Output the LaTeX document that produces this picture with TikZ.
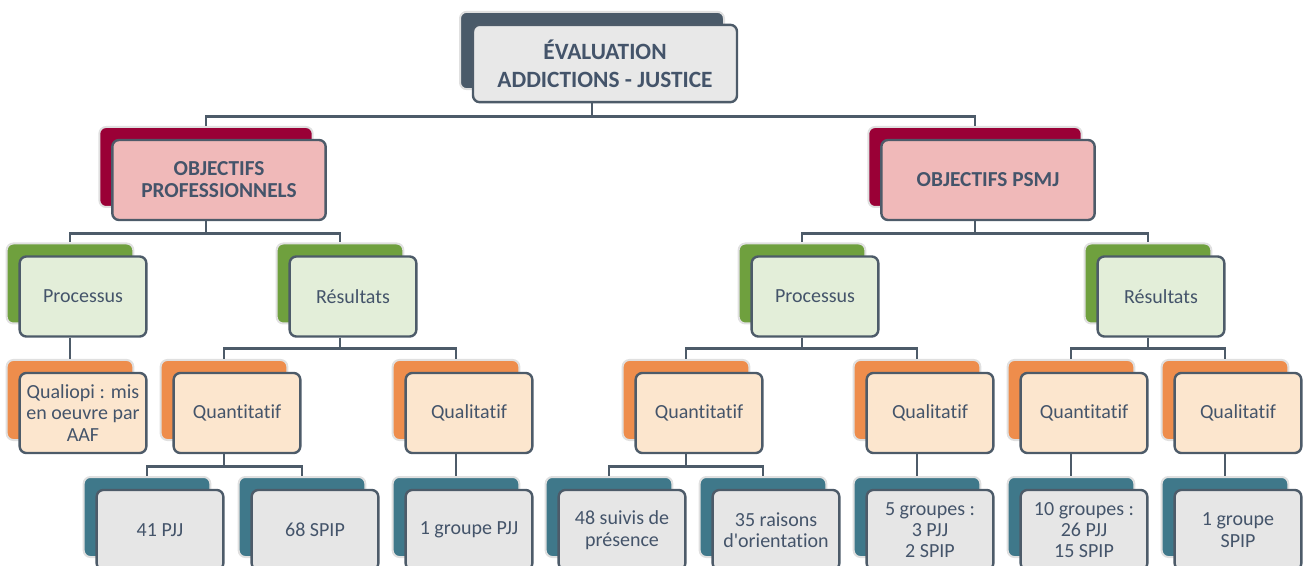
\documentclass[tikz,border=0pt]{standalone}
\usepackage{fontspec}
\setmainfont{Carlito}[Ligatures={TeXOff,NoCommon}]
\usepackage{tikz}
\usetikzlibrary{shadows}
\definecolor{textc}{HTML}{44546A}
\definecolor{edgec}{HTML}{4D5B69}
\definecolor{topback}{HTML}{4A5A69}
\definecolor{topfill}{HTML}{E8E8E8}
\definecolor{objback}{HTML}{9A0036}
\definecolor{objfill}{HTML}{F0B9B9}
\definecolor{axeback}{HTML}{6FA03E}
\definecolor{axefill}{HTML}{E3EED9}
\definecolor{typeback}{HTML}{EE8D4C}
\definecolor{typefill}{HTML}{FCE6CE}
\definecolor{databack}{HTML}{3F788A}
\definecolor{datafill}{HTML}{E6E6E6}
\begin{document}
\begin{tikzpicture}[x=0.75pt,y=-0.75pt,
  card/.style={draw=edgec,line width=1.8pt,rounded corners=5pt,text=textc,
  align=center,minimum width=95pt,minimum height=60pt,inner sep=2pt,
  font=\fontsize{15}{16}\selectfont},
  back/.style={copy shadow={shadow xshift=-9.75pt,shadow yshift=9.75pt,
  draw=black!12,line width=1.5pt,fill=#1}},
  topbox/.style={card,fill=topfill,back=topback,minimum width=198pt,minimum height=58pt,
  font=\fontsize{17.5}{21}\selectfont\bfseries},
  objbox/.style={card,fill=objfill,back=objback,minimum width=160pt,
  font=\fontsize{16}{16.5}\selectfont\bfseries},
  axebox/.style={card,fill=axefill,back=axeback},
  typebox/.style={card,fill=typefill,back=typeback},
  databox/.style={card,fill=datafill,back=databack},
  link/.style={draw=edgec,line width=2pt}]
\useasboundingbox (0,0) rectangle (1306,566);
\clip (0,0) rectangle (1306,566);
\node[topbox] (eval) at (605,63.5) {ÉVALUATION\\ADDICTIONS - JUSTICE};
\node[objbox] (objpro) at (219,180) {OBJECTIFS\\PROFESSIONNELS};
\node[objbox] (objpsmj) at (988,180) {OBJECTIFS PSMJ};
\node[axebox] (procg) at (83,296.5) {Processus};
\node[axebox] (resg) at (353,296.5) {Résultats};
\node[axebox] (procd) at (815,296.5) {Processus};
\node[axebox] (resd) at (1161,296.5) {Résultats};
\node[typebox] (aaf) at (83,413) {Qualiopi : mis\\en oeuvre par\\AAF};
\node[typebox] (quantg) at (237,413) {Quantitatif};
\node[typebox] (qualg) at (469,413) {Qualitatif};
\node[typebox] (quantd) at (699,413) {Quantitatif};
\node[typebox] (quald) at (930,413) {Qualitatif};
\node[typebox] (quantr) at (1084,413) {Quantitatif};
\node[typebox] (qualr) at (1238,413) {Qualitatif};
\node[databox] (pjj) at (160,530) {41 PJJ};
\node[databox] (spip) at (315,530) {68 SPIP};
\node[databox] (grpjj) at (469,530) {1 groupe PJJ};
\node[databox] (suivis) at (622,530) {48 suivis de\\présence};
\node[databox] (raisons) at (776,530) {35 raisons\\d'orientation};
\node[databox] (cinq) at (930,530) {5 groupes :\\3 PJJ\\2 SPIP};
\node[databox] (dix) at (1084,530) {10 groupes :\\26 PJJ\\15 SPIP};
\node[databox] (grspip) at (1238,530) {1 groupe\\SPIP};
% links run from the back card of the parent to the back card of the child
\draw[link] ([xshift=-9.75pt]eval.south) -- ++(0,13) -| ([shift={(-9.75pt,9.75pt)}]objpro.north);
\draw[link] ([xshift=-9.75pt]eval.south) -- ++(0,13) -| ([shift={(-9.75pt,9.75pt)}]objpsmj.north);
\draw[link] ([xshift=-9.75pt]objpro.south) -- ++(0,12) -| ([shift={(-9.75pt,9.75pt)}]procg.north);
\draw[link] ([xshift=-9.75pt]objpro.south) -- ++(0,12) -| ([shift={(-9.75pt,9.75pt)}]resg.north);
\draw[link] ([xshift=-9.75pt]objpsmj.south) -- ++(0,12) -| ([shift={(-9.75pt,9.75pt)}]procd.north);
\draw[link] ([xshift=-9.75pt]objpsmj.south) -- ++(0,12) -| ([shift={(-9.75pt,9.75pt)}]resd.north);
\draw[link] ([xshift=-9.75pt]procg.south) -- ([shift={(-9.75pt,9.75pt)}]aaf.north);
\draw[link] ([xshift=-9.75pt]resg.south) -- ++(0,11) -| ([shift={(-9.75pt,9.75pt)}]quantg.north);
\draw[link] ([xshift=-9.75pt]resg.south) -- ++(0,11) -| ([shift={(-9.75pt,9.75pt)}]qualg.north);
\draw[link] ([xshift=-9.75pt]procd.south) -- ++(0,11) -| ([shift={(-9.75pt,9.75pt)}]quantd.north);
\draw[link] ([xshift=-9.75pt]procd.south) -- ++(0,11) -| ([shift={(-9.75pt,9.75pt)}]quald.north);
\draw[link] ([xshift=-9.75pt]resd.south) -- ++(0,11) -| ([shift={(-9.75pt,9.75pt)}]quantr.north);
\draw[link] ([xshift=-9.75pt]resd.south) -- ++(0,11) -| ([shift={(-9.75pt,9.75pt)}]qualr.north);
\draw[link] ([xshift=-9.75pt]quantg.south) -- ++(0,12) -| ([shift={(-9.75pt,9.75pt)}]pjj.north);
\draw[link] ([xshift=-9.75pt]quantg.south) -- ++(0,12) -| ([shift={(-9.75pt,9.75pt)}]spip.north);
\draw[link] ([xshift=-9.75pt]qualg.south) -- ([shift={(-9.75pt,9.75pt)}]grpjj.north);
\draw[link] ([xshift=-9.75pt]quantd.south) -- ++(0,12) -| ([shift={(-9.75pt,9.75pt)}]suivis.north);
\draw[link] ([xshift=-9.75pt]quantd.south) -- ++(0,12) -| ([shift={(-9.75pt,9.75pt)}]raisons.north);
\draw[link] ([xshift=-9.75pt]quald.south) -- ([shift={(-9.75pt,9.75pt)}]cinq.north);
\draw[link] ([xshift=-9.75pt]quantr.south) -- ([shift={(-9.75pt,9.75pt)}]dix.north);
\draw[link] ([xshift=-9.75pt]qualr.south) -- ([shift={(-9.75pt,9.75pt)}]grspip.north);
\end{tikzpicture}
\end{document}
